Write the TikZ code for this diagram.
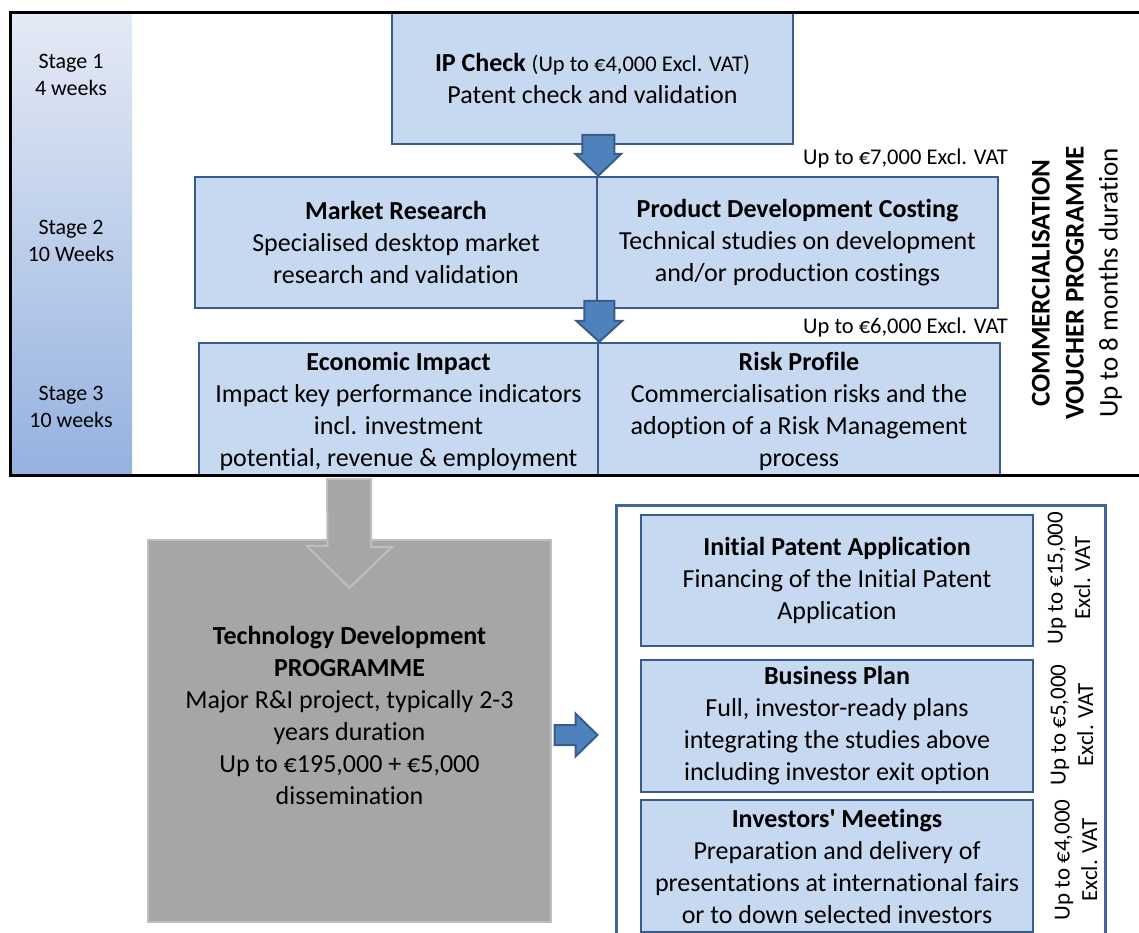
\documentclass[tikz,border=0pt]{standalone}
\usepackage{fontspec}
\setmainfont{Carlito}[Ligatures=CommonOff]
\usetikzlibrary{calc}
\definecolor{boxfill}{RGB}{198,217,241}
\definecolor{boxline}{RGB}{56,93,138}
\definecolor{arrowfill}{RGB}{79,129,189}
\definecolor{grayfill}{RGB}{166,166,166}
\definecolor{grayline}{RGB}{191,191,191}
\definecolor{stagetop}{RGB}{228,234,245}
\definecolor{stagebot}{RGB}{149,178,224}
\definecolor{outerline}{RGB}{65,100,154}
\newcommand{\straightquote}{\XeTeXglyph\XeTeXcharglyph"27\relax}
\tikzset{
  maintxt/.style={font=\fontsize{26}{32}\selectfont, align=center, inner sep=0pt},
  bluebox/.style={maintxt, draw=boxline, line width=2.5pt, fill=boxfill},
  stagetxt/.style={font=\fontsize{22}{26.5}\selectfont, align=center, inner sep=0pt},
  pricetxt/.style={font=\fontsize{22.5}{27}\selectfont, inner sep=0pt},
  sidetxt/.style={font=\fontsize{23}{27.5}\selectfont, align=center, inner sep=0pt, rotate=90},
  bluearrow/.style={draw=boxline, line width=2pt, fill=arrowfill, line join=miter},
  grayarrow/.style={draw=grayline, line width=2pt, fill=grayfill, line join=miter},
}
\begin{document}
\begin{tikzpicture}[x=1pt,y=-1pt]
\clip (0,0) rectangle (1139,932);
\fill[white] (0,0) rectangle (1139,932);

% ---------- commercialisation voucher programme ----------
\begin{scope}
\clip (10,12) rectangle (1141,475);
\shade[top color=stagetop, bottom color=stagebot] (12,14) rectangle (132,474);
\node[stagetxt] (s1) at (71,75) {Stage 1\\4 weeks};
\node[stagetxt] (s2) at (71,241) {Stage 2\\10 Weeks};
\node[stagetxt] (s3) at (71,407) {Stage 3\\10 weeks};

\node[bluebox, minimum width=401pt, minimum height=132pt] (ip) at (592.5,78)
  {\textbf{IP Check} {\fontsize{22.5}{32}\selectfont(Up to €4,000 Excl. VAT)}\\Patent check and validation};

\node[bluebox, minimum width=402pt, minimum height=131pt] (mr) at (396,242.5)
  {\textbf{Market Research}\\Specialised desktop market\\research and validation};
\node[bluebox, minimum width=401pt, minimum height=131pt] (pd) at (797.5,242.5)
  {\textbf{Product Development Costing}\\Technical studies on development\\and/or production costings};

\node[bluebox, minimum width=399pt, minimum height=136pt] (ei) at (398.5,411)
  {\textbf{Economic Impact}\\Impact key performance indicators\\incl. investment\\potential, revenue \& employment};
\node[bluebox, minimum width=402pt, minimum height=136pt] (rp) at (799,411)
  {\textbf{Risk Profile}\\Commercialisation risks and the\\adoption of a Risk Management\\process};

\node[pricetxt, anchor=east] (p7) at (1008,158) {Up to €7,000 Excl. VAT};
\node[pricetxt, anchor=east] (p6) at (1008,327) {Up to €6,000 Excl. VAT};

\node[font=\fontsize{27}{34}\selectfont, align=center, inner sep=0pt, rotate=90] (cvp) at (1077,283)
  {\textbf{COMMERCIALISATION}\\\textbf{VOUCHER PROGRAMME}\\Up to 8 months duration};

% arrows between stages
\coordinate (t1) at (mr.north east);
\draw[bluearrow] (t1) -- ++(-23,-22) -- ++(7,0) -- ++(0,-19) -- ++(32,0) -- ++(0,19) -- ++(7,0) -- cycle;
\coordinate (t2) at (ei.north east);
\draw[bluearrow] (t2) -- ++(-23,-21) -- ++(8,0) -- ++(0,-20) -- ++(30,0) -- ++(0,20) -- ++(8,0) -- cycle;
\end{scope}
\draw[line width=3pt] (10,12) rectangle (1142,475);
\coordinate (cvpbottom) at (349,479);

% ---------- technology development programme ----------
\node[maintxt, draw=grayline, line width=2.5pt, fill=grayfill, minimum width=403pt, minimum height=382pt] (tdp) at (349.5,731) {};
\node[maintxt] (tdptext) at (349.5,715)
  {\textbf{Technology Development}\\\textbf{PROGRAMME}\\Major R\&I project, typically 2-3\\years duration\\Up to €195,000 + €5,000\\dissemination};
\coordinate (t3) at ($(tdp.north)+(0,49)$);
\draw[grayarrow] (t3) -- ++(-43,-42) -- ++(21,0) -- (cvpbottom -| 327,0) -- ++(44,0) -- ++(0,68) -- ++(21,0) -- cycle;

% ---------- follow-on support ----------
\node[draw=outerline, line width=3pt, fill=white, minimum width=489pt, minimum height=440pt, inner sep=0pt] (ob) at (860.5,725) {};
\coordinate (t4) at ($(ob.west)+(-17,10)$);
\draw[bluearrow] (t4) -- ++(-22,-21.5) -- ++(0,11.5) -- ++(-21,0) -- ++(0,20) -- ++(21,0) -- ++(0,11.5) -- cycle;

\node[bluebox, minimum width=392pt, minimum height=131pt] (ipa) at (837,580.5)
  {\textbf{Initial Patent Application}\\Financing of the Initial Patent\\Application};
\node[bluebox, minimum width=392pt, minimum height=132pt] (bp) at (837,726)
  {\textbf{Business Plan}\\Full, investor-ready plans\\integrating the studies above\\including investor exit option};
\node[bluebox, minimum width=392pt, minimum height=132pt] (im) at (837,866)
  {\textbf{Investors\straightquote{} Meetings}\\Preparation and delivery of\\presentations at international fairs\\or to down selected investors};

\node[sidetxt] (c1) at (1069,578) {Up to €15,000\\Excl. VAT};
\node[sidetxt] (c2) at (1072,725) {Up to €5,000\\Excl. VAT};
\node[sidetxt] (c3) at (1076,860) {Up to €4,000\\Excl. VAT};
\end{tikzpicture}
\end{document}
